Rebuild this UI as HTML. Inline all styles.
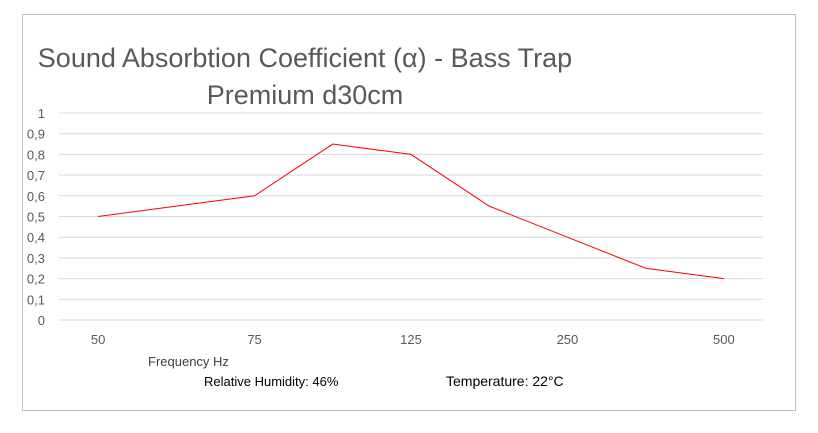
<!DOCTYPE html>
<html><head><meta charset="utf-8"><style>
body{margin:0;background:#fff;width:818px;height:428px;overflow:hidden;font-family:"Liberation Sans",sans-serif}
</style></head><body>
<svg width="818" height="428">
<rect x="22.5" y="14.5" width="773" height="396" fill="#fff" stroke="#bfbfbf"/>
<text x="305" y="67" font-size="27" fill="#595959" text-anchor="middle">Sound Absorbtion Coefficient (α) - Bass Trap</text>
<text x="305" y="104" font-size="27" fill="#595959" text-anchor="middle">Premium d30cm</text>
<g id="grid"></g><g id="yt"></g><g id="xt"></g>
<polyline id="line" fill="none" stroke="#ff0000" stroke-width="1"/>
<text x="148" y="366" font-size="13" fill="#404040">Frequency Hz</text>
<text x="204" y="386" font-size="13" fill="#000">Relative Humidity: 46%</text>
<text x="446" y="386" font-size="14" fill="#000">Temperature: 22°C</text>
</svg>
<script>
const categories=["50","","75","","125","","250","","500"];
const values=[0.5,0.55,0.6,0.85,0.8,0.55,0.4,0.25,0.2];
const yTicks=["0","0,1","0,2","0,3","0,4","0,5","0,6","0,7","0,8","0,9","1"];
const L=59,R=763,T=113,B=320;
const step=(R-L)/categories.length;
const xs=i=>L+step*(i+0.5);
const ys=v=>B-(B-T)*v;
const ns="http://www.w3.org/2000/svg";
const g=document.getElementById('grid'),yt=document.getElementById('yt'),xt=document.getElementById('xt');
yTicks.forEach((t,i)=>{const v=i/10;
const l=document.createElementNS(ns,'line');


l.setAttribute('x1',L);l.setAttribute('x2',R);l.setAttribute('y1',ys(v));l.setAttribute('y2',ys(v));
l.setAttribute('stroke','#d9d9d9');l.setAttribute('stroke-width','1');g.appendChild(l);
const tx=document.createElementNS(ns,'text');


tx.setAttribute('x',45);tx.setAttribute('y',ys(v)+5);tx.setAttribute('text-anchor','end');
tx.setAttribute('font-size','13');tx.setAttribute('fill','#595959');tx.textContent=t;yt.appendChild(tx);});
categories.forEach((c,i)=>{const tx=document.createElementNS(ns,'text');


tx.setAttribute('x',xs(i));tx.setAttribute('y',344);tx.setAttribute('text-anchor','middle');
tx.setAttribute('font-size','13');tx.setAttribute('fill','#595959');tx.textContent=c;xt.appendChild(tx);});
document.getElementById('line').setAttribute('points',values.map((v,i)=>xs(i)+','+ys(v)).join(' '));
</script>
</body></html>
